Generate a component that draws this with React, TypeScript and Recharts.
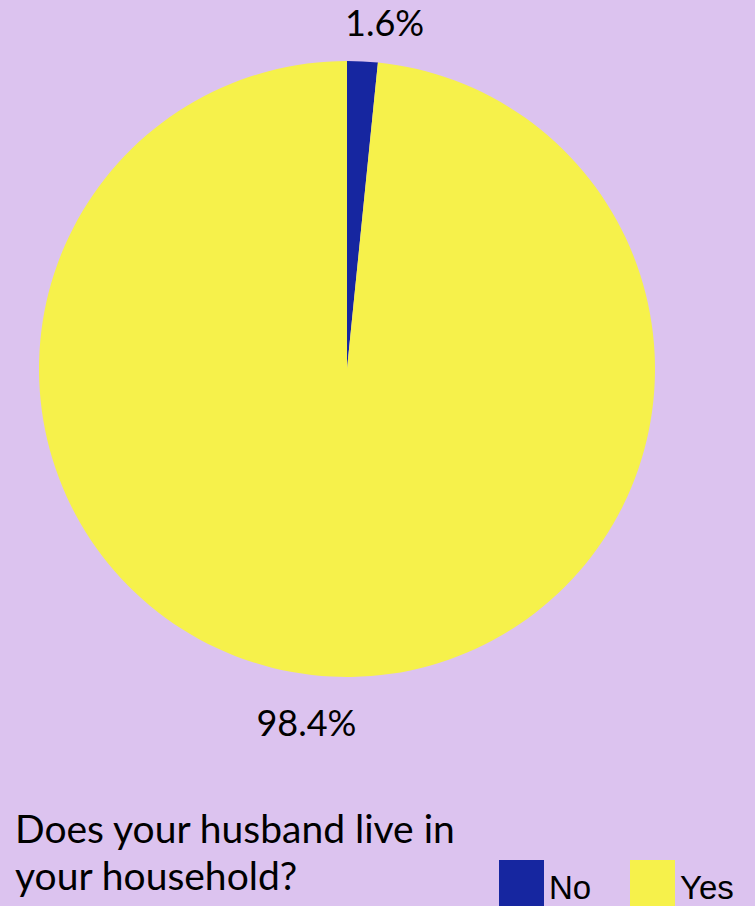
import { PieChart, Pie, Cell, Legend } from "recharts";

const answers = ["No", "Yes"];
const shares = [1.6, 98.4];
const sliceColors = ["#1626A0", "#F6F14B"];
const titleLines = ["Does your husband live in", "your household?"];

const data = answers.map((name, i) => ({ name, value: shares[i] }));

const RAD = Math.PI / 180;

function PercentLabel(props: any) {
  const { cx, cy, midAngle, outerRadius, value } = props;
  const r = outerRadius + 42;
  const x0 = cx + r * Math.cos(-midAngle * RAD);
  const y0 = cy + r * Math.sin(-midAngle * RAD);
  const right = x0 > cx;
  const x = x0 + (right ? 20 : -23);
  return (
    <text
      x={x}
      y={y0 + 17}
      textAnchor="middle"
      fontFamily="Lato, sans-serif"
      fontSize={36}
      fill="#000"
    >
      {value.toFixed(1)}%
    </text>
  );
}

function LegendContent({ payload }: any) {
  return (
    <div style={{ position: "relative", width: 256, height: 50 }}>
      {(payload || []).map((p: any, i: number) => (
        <div
          key={p.value}
          style={{ position: "absolute", left: i * 131, top: 0, display: "flex", alignItems: "flex-start" }}
        >
          <div style={{ width: 45, height: 50, background: p.color }} />
          <span
            style={{
              fontFamily: "'Liberation Sans', Arial, sans-serif",
              fontSize: 33,
              lineHeight: "33px",
              color: "#000",
              marginLeft: 5,
              marginTop: 11,
            }}
          >
            {p.value}
          </span>
        </div>
      ))}
    </div>
  );
}

export default function App() {
  return (
    <div
      style={{
        position: "absolute",
        left: 0,
        top: 0,
        width: 755,
        height: 906,
        overflow: "hidden",
        background: "#DCC3EF",
      }}
    >
      <PieChart width={755} height={906} margin={{ top: 0, right: 0, bottom: 0, left: 0 }}>
        <Pie
          data={data}
          dataKey="value"
          nameKey="name"
          cx={347}
          cy={369}
          outerRadius={308}
          startAngle={90}
          endAngle={-270}
          stroke="none"
          labelLine={false}
          label={PercentLabel}
          isAnimationActive={false}
        >
          {data.map((d, i) => (
            <Cell key={d.name} fill={sliceColors[i]} />
          ))}
        </Pie>
        <Legend
          content={LegendContent}
          wrapperStyle={{ left: 499, top: 860, width: 256, bottom: "auto" }}
        />
      </PieChart>
      <div
        style={{
          position: "absolute",
          left: 15,
          top: 805,
          fontFamily: "Lato, sans-serif",
          fontSize: 39,
          lineHeight: "47px",
          color: "#000",
        }}
      >
        {titleLines.map((t) => (
          <div key={t}>{t}</div>
        ))}
      </div>
    </div>
  );
}
